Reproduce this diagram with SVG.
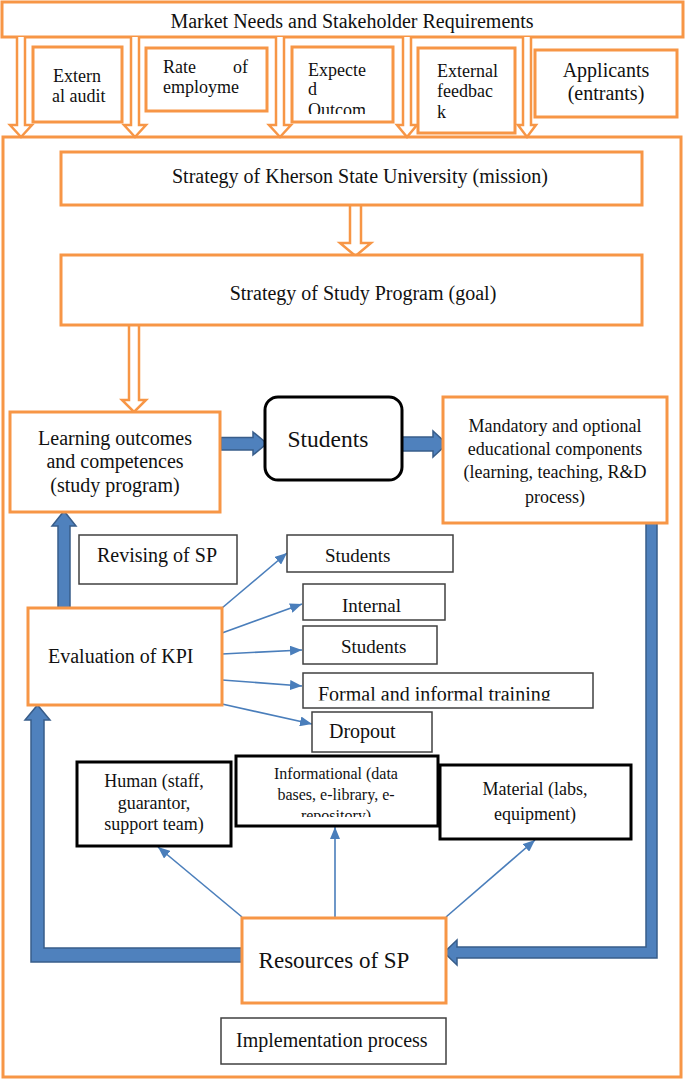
<svg xmlns="http://www.w3.org/2000/svg" width="685" height="1082" viewBox="0 0 685 1082">
<style>
.o{fill:#fff;stroke:#F79646;stroke-width:3}
.k{fill:#fff;stroke:#000;stroke-width:3}
.t{fill:#fff;stroke:#404040;stroke-width:1.5}
.ha{fill:#fff;stroke:#F79646;stroke-width:2.5;stroke-linejoin:miter}
.ba{fill:#4F81BD;stroke:#385D8A;stroke-width:1.5;stroke-linejoin:miter}
.tl{fill:none;stroke:#4A7EBB;stroke-width:1.6;marker-end:url(#ah)}
text{font-family:"Liberation Serif","Times New Roman",serif;fill:#111}
.s16{font-size:16px}.s18{font-size:18px}.s19{font-size:19px}.s20{font-size:20px}
.m{text-anchor:middle}
</style>
<defs>
<marker id="ah" markerUnits="userSpaceOnUse" markerWidth="13" markerHeight="10" refX="12" refY="5" orient="auto">
<path d="M0,0 L12,5 L0,10 z" fill="#4A7EBB"/>
</marker>
<clipPath id="cExp"><rect x="292" y="47" width="101" height="67"/></clipPath>
<clipPath id="cInf"><rect x="236" y="756" width="202" height="61"/></clipPath>
<clipPath id="cFor"><rect x="303" y="673" width="290" height="27.5"/></clipPath>
</defs>
<rect width="685" height="1082" fill="#fff"/>

<g id="outer"><rect class="o" x="3" y="137" width="678" height="940"/></g>

<g id="market"><rect class="o" x="2" y="2" width="681" height="35"/>
<text class="s20 m" x="352" y="28">Market Needs and Stakeholder Requirements</text></g>

<g id="connectors">
<path class="ha" d="M17 37 V125 H10 L21 137 L32 125 H25 V37"/>
<path class="ha" d="M131 37 V125 H124 L135 137 L146 125 H139 V37"/>
<path class="ha" d="M276 37 V125 H269 L280 137 L291 125 H284 V37"/>
<path class="ha" d="M403 37 V125 H397 L407 137 L417 125 H411 V37"/>
<path class="ha" d="M523 37 V125 H518 L527 137 L536 125 H531 V37"/>
<path class="ha" d="M350 205 V243 H340 L355.5 256 L371 243 H361 V205"/>
<path class="ha" d="M129 326 V400 H122 L134 412 L146 400 H139 V326"/>
<polygon class="ba" points="221,437.5 253,437.5 253,432 267,443.5 253,455 253,450 221,450"/>
<polygon class="ba" points="402,437 433,437 433,431 447,444 433,457 433,451 402,451"/>
<polygon class="ba" points="58,608 58,526 52,526 64,511 76,526 70,526 70,608"/>
<polygon class="ba" points="242,948 44,948 44,720 50,720 37.5,705 25,720 31,720 31,962 242,962"/>
<polygon class="ba" points="646,523 657,523 657,958 457,958 457,965 444,952.5 457,940 457,947 646,947"/>
<line class="tl" x1="222" y1="608" x2="287" y2="553"/>
<line class="tl" x1="222" y1="633" x2="302" y2="604"/>
<line class="tl" x1="222" y1="654" x2="302" y2="650"/>
<line class="tl" x1="222" y1="680" x2="302" y2="686"/>
<line class="tl" x1="222" y1="704" x2="312" y2="724"/>
<line class="tl" x1="242" y1="917" x2="158" y2="847"/>
<line class="tl" x1="335" y1="917" x2="335" y2="827"/>
<line class="tl" x1="446" y1="917" x2="535" y2="840"/>
</g>

<g id="extaudit"><rect class="o" x="33" y="47" width="89" height="75"/>
<text class="s18" x="53" y="82">Extern</text><text class="s18" x="52" y="102">al audit</text></g>

<g id="employment"><rect class="o" x="146" y="48" width="121" height="63"/>
<text class="s18" x="163" y="73">Rate</text><text class="s18" x="248" y="73" text-anchor="end">of</text>
<text class="s18" x="163" y="93">employme</text></g>

<g id="expected"><rect class="o" x="292" y="47" width="101" height="75"/>
<g clip-path="url(#cExp)">
<text class="s18" x="308" y="76">Expecte</text><text class="s18" x="308" y="95">d</text><text class="s18" x="308" y="116">Outcom</text></g></g>

<g id="feedback"><rect class="o" x="418" y="48" width="97" height="85"/>
<text class="s18" x="437" y="77">External</text><text class="s18" x="437" y="97">feedbac</text><text class="s18" x="437" y="118">k</text></g>

<g id="applicants"><rect class="o" x="535" y="50" width="142" height="67"/>
<text class="s20 m" x="606" y="77">Applicants</text><text class="s20 m" x="606" y="100">(entrants)</text></g>

<g id="mission"><rect class="o" x="61" y="152" width="581" height="53"/>
<text class="s20 m" x="360" y="183">Strategy of Kherson State University (mission)</text></g>

<g id="goal"><rect class="o" x="61" y="255" width="581" height="70"/>
<text class="s20 m" x="363" y="300">Strategy of Study Program (goal)</text></g>

<g id="outcomes"><rect class="o" x="10" y="412" width="210" height="100"/>
<text class="s20 m" x="115" y="445">Learning outcomes</text>
<text class="s20 m" x="115" y="468">and competences</text>
<text class="s20 m" x="115" y="492">(study program)</text></g>

<g id="students"><rect class="k" x="265" y="397" width="137" height="83" rx="13"/>
<text class="m" x="328" y="447" font-size="23.5">Students</text></g>

<g id="components"><rect class="o" x="443" y="397" width="224" height="126"/>
<text class="s18 m" x="555" y="432">Mandatory and optional</text>
<text class="s18 m" x="555" y="455">educational components</text>
<text class="s18 m" x="555" y="478">(learning, teaching, R&amp;D</text>
<text class="s18 m" x="555" y="503">process)</text></g>

<g id="revising"><rect class="t" x="79" y="535" width="158" height="49"/>
<text class="s20" x="97" y="562">Revising of SP</text></g>

<g id="kpi"><rect class="o" x="28" y="608" width="194" height="97"/>
<text class="s20" x="48" y="663">Evaluation of KPI</text></g>

<g id="students1"><rect class="t" x="287" y="535" width="166" height="37"/>
<text class="s19" x="325" y="562">Students</text></g>

<g id="internal"><rect class="t" x="303" y="584" width="142" height="36"/>
<text class="s19" x="342" y="612">Internal</text></g>

<g id="students2"><rect class="t" x="303" y="626" width="134" height="38"/>
<text class="s19" x="341" y="653">Students</text></g>

<g id="training"><rect class="t" x="303" y="673" width="290" height="35"/>
<g clip-path="url(#cFor)"><text class="s20" x="318" y="701">Formal and informal training</text></g></g>

<g id="dropout"><rect class="t" x="312" y="712" width="120" height="40"/>
<text class="s20" x="329" y="738">Dropout</text></g>

<g id="human"><rect class="k" x="77" y="762" width="154" height="84"/>
<text class="s18 m" x="154" y="787">Human (staff,</text>
<text class="s18 m" x="154" y="809">guarantor,</text>
<text class="s18 m" x="154" y="830">support team)</text></g>

<g id="informational"><rect class="k" x="236" y="756" width="202" height="70"/>
<g clip-path="url(#cInf)">
<text class="s16 m" x="336" y="779">Informational (data</text>
<text class="s16 m" x="336" y="800">bases, e-library, e-</text>
<text class="s16 m" x="336" y="821">repository)</text></g></g>

<g id="material"><rect class="k" x="440" y="765" width="191" height="74"/>
<text class="s18 m" x="535" y="795">Material (labs,</text>
<text class="s18 m" x="535" y="820">equipment)</text></g>

<g id="resources"><rect class="o" x="242" y="918" width="204" height="85"/>
<text class="m" x="334" y="968" font-size="23">Resources of SP</text></g>

<g id="implementation"><rect class="t" x="221" y="1018" width="225" height="46"/>
<text class="s20" x="236" y="1047">Implementation process</text></g>
</svg>
